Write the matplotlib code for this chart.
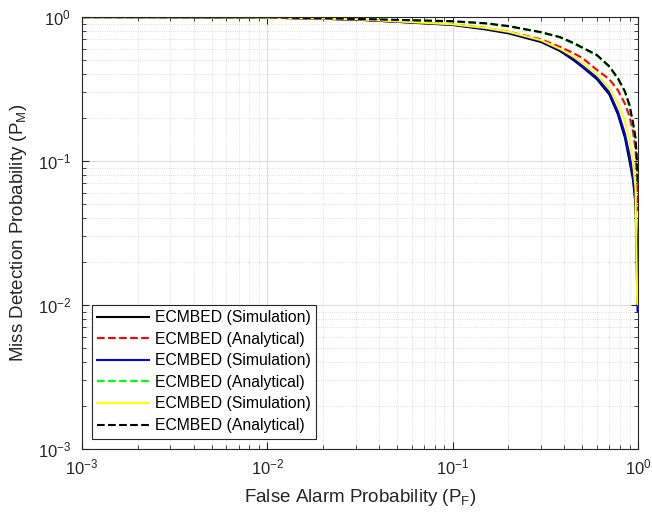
import numpy as np
import matplotlib
matplotlib.use('Agg')
import matplotlib.pyplot as plt

plt.rcParams['font.family'] = ['Liberation Sans', 'DejaVu Sans']

# false alarm probability grid
pf = [0.001, 0.003, 0.01, 0.03, 0.1, 0.15, 0.2, 0.3, 0.38, 0.45, 0.5, 0.6,
      0.7, 0.78, 0.85, 0.9, 0.94, 0.97, 0.99]

# miss detection probability, one list per curve
pm_sim1 = [0.999, 0.997, 0.99, 0.96, 0.88, 0.82, 0.77, 0.67, 0.58, 0.50, 0.45,
           0.37, 0.29, 0.21, 0.145, 0.10, 0.074, 0.05, 0.025]
pm_ana1 = [0.999, 0.997, 0.99, 0.96, 0.89, 0.84, 0.79, 0.70, 0.62, 0.56, 0.52,
           0.43, 0.37, 0.31, 0.25, 0.205, 0.16, 0.12, 0.07]
pm_sim2 = [0.999, 0.997, 0.99, 0.96, 0.885, 0.83, 0.78, 0.68, 0.59, 0.51, 0.46,
           0.38, 0.30, 0.22, 0.155, 0.11, 0.08, 0.05, 0.012]
pm_ana2 = [0.999, 0.998, 0.995, 0.97, 0.93, 0.90, 0.86, 0.78, 0.72, 0.65, 0.61,
           0.54, 0.45, 0.37, 0.30, 0.24, 0.18, 0.14, 0.09]
pm_sim3 = [0.999, 0.997, 0.99, 0.965, 0.89, 0.84, 0.79, 0.69, 0.60, 0.53, 0.48,
           0.40, 0.32, 0.25, 0.19, 0.14, 0.10, 0.065, 0.0105]
pm_ana3 = [0.999, 0.998, 0.995, 0.97, 0.935, 0.905, 0.865, 0.785, 0.725, 0.66, 0.615,
           0.545, 0.455, 0.375, 0.305, 0.245, 0.185, 0.145, 0.095]

# end points at Pf -> 1
pf_end = [0.995, 0.998, 0.999, 1.0]
sim1_end = [0.02, 0.018, 0.017, 0.016]
ana1_end = [0.055, 0.048, 0.046, 0.045]
sim2_end = [0.009, 0.009, 0.009, 0.009]
ana2_end = [0.075, 0.07, 0.068, 0.067]
sim3_end = [0.0102, 0.0101, 0.0101, 0.0101]
ana3_end = [0.08, 0.072, 0.07, 0.069]

labels = ['ECMBED (Simulation)', 'ECMBED (Analytical)'] * 3

fig = plt.figure(figsize=(6.52, 5.12), dpi=100)
ax = fig.add_axes([0.1258, 0.123, 0.8527, 0.8438])

ax.loglog(pf + pf_end, pm_sim1 + sim1_end, '-', color='k', lw=1.5, label=labels[0])
ax.loglog(pf + pf_end, pm_ana1 + ana1_end, '--', color='#ff0000', lw=1.5, label=labels[1])
ax.loglog(pf + pf_end, pm_sim2 + sim2_end, '-', color='#0000ff', lw=1.5, label=labels[2])
ax.loglog(pf + pf_end, pm_ana2 + ana2_end, '--', color='#00ff00', lw=1.5, label=labels[3])
ax.loglog(pf + pf_end, pm_sim3 + sim3_end, '-', color='#ffff00', lw=1.5, label=labels[4])
ax.loglog(pf + pf_end, pm_ana3 + ana3_end, '--', color='k', lw=1.5, label=labels[5])

ax.set_xlim(1e-3, 1)
ax.set_ylim(1e-3, 1)
ax.grid(True, which='major', color='#dcdcdc', lw=0.8, ls='-')
ax.grid(True, which='minor', color='#d4d4d4', lw=0.6, ls=':')
ax.tick_params(which='both', direction='in', top=True, right=True, labelsize=12,
               colors='#262626')
ax.tick_params(which='major', length=5)
ax.tick_params(which='minor', length=3)
ax.tick_params(axis='x', pad=6)
ax.tick_params(axis='y', pad=8)
for s in ax.spines.values():
    s.set_color('#262626')
    s.set_linewidth(0.8)

ax.set_xlabel('False Alarm Probability (P$_\\mathregular{F}$)', fontsize=13.5,
              color='#262626', labelpad=7)
ax.set_ylabel('Miss Detection Probability (P$_\\mathregular{M}$)', fontsize=13.5,
              color='#262626', labelpad=6)

leg = ax.legend(loc='lower left', bbox_to_anchor=(0.012, 0.017), fontsize=11.3,
                fancybox=False, framealpha=1, edgecolor='#262626',
                handlelength=3.3, handletextpad=0.35, borderpad=0.35,
                labelspacing=0.42, borderaxespad=0.2)
leg.get_frame().set_linewidth(0.8)

fig.savefig('out.png', dpi=100)
